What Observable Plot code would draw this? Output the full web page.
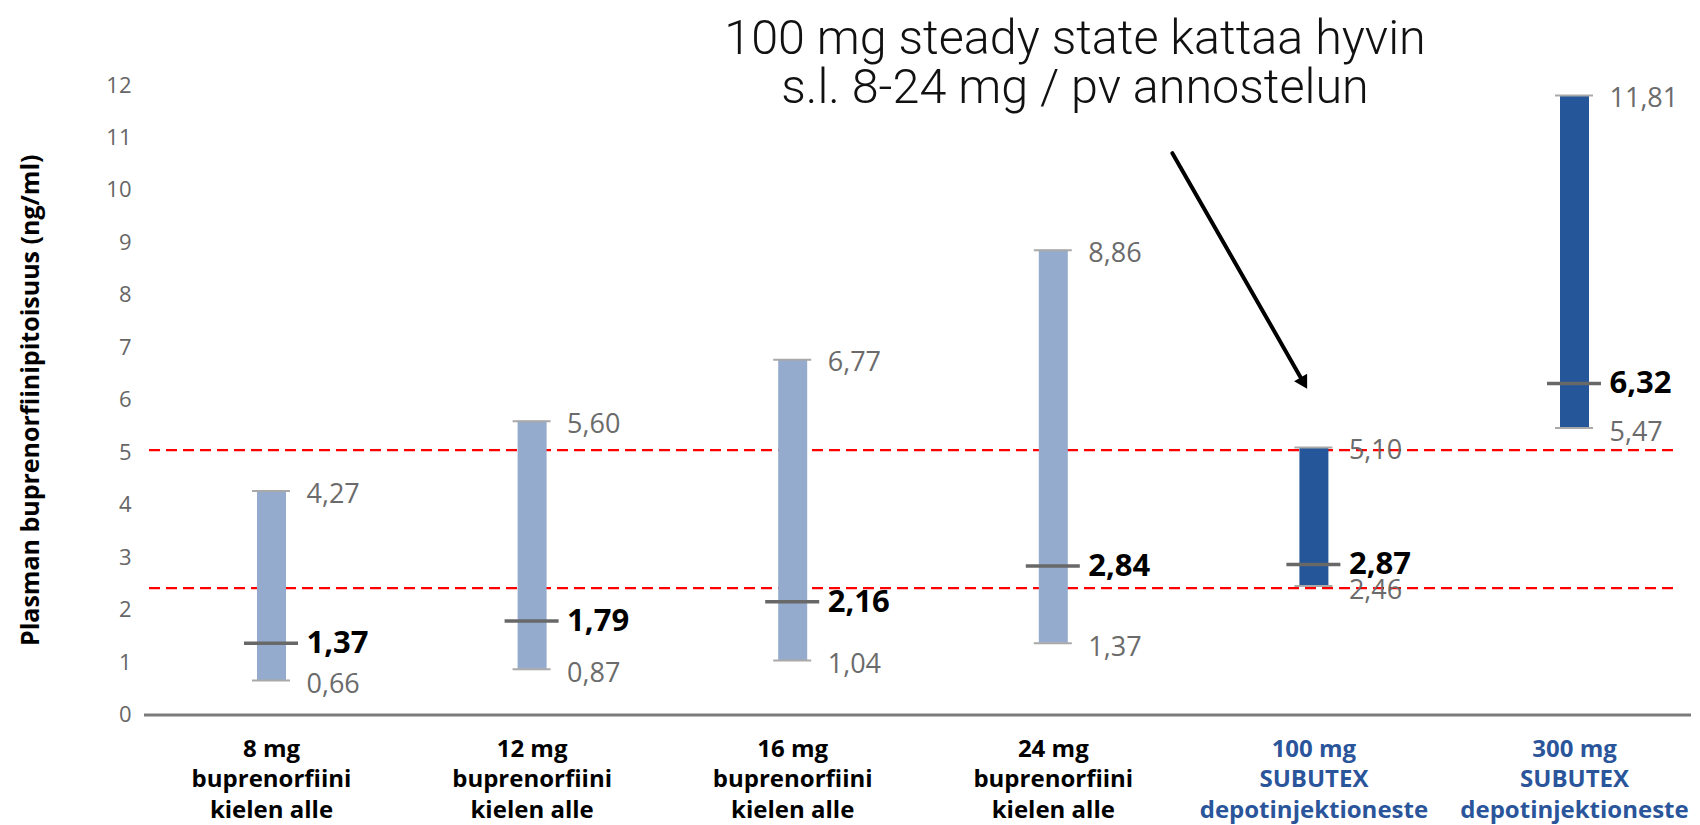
<!DOCTYPE html>
<html>
<head>
<meta charset="utf-8">
<script src="https://cdn.jsdelivr.net/npm/d3@7"></script>
<script src="https://cdn.jsdelivr.net/npm/@observablehq/plot@0.6"></script>
<style>
  html, body { margin: 0; padding: 0; background: #fff; }
  #wrap { position: relative; width: 1700px; height: 825px; }
  #note {
    position: absolute; left: 625px; top: 13px; width: 900px;
    text-align: center; font-family: Roboto, "Liberation Sans", sans-serif;
    font-weight: 300; font-size: 48.5px; line-height: 49px; color: #111;
  }
</style>
</head>
<body>
<div id="wrap">
  <div id="chart"></div>
  <div id="note">100 mg steady state kattaa hyvin<br>s.l. 8-24 mg / pv annostelun</div>
</div>
<script>
// Plasma buprenorphine concentration ranges by dose / formulation
const categories = [
  "8 mg\nbuprenorfiini\nkielen alle",
  "12 mg\nbuprenorfiini\nkielen alle",
  "16 mg\nbuprenorfiini\nkielen alle",
  "24 mg\nbuprenorfiini\nkielen alle",
  "100 mg\nSUBUTEX\ndepotinjektioneste",
  "300 mg\nSUBUTEX\ndepotinjektioneste"
];
const formulation = ["sublingual", "sublingual", "sublingual", "sublingual", "depot", "depot"];
const minValues = [0.66, 0.87, 1.04, 1.37, 2.46, 5.47];
const maxValues = [4.27, 5.60, 6.77, 8.86, 5.10, 11.81];
const medianValues = [1.37, 1.79, 2.16, 2.84, 2.87, 6.32];
const yTicks = [0, 1, 2, 3, 4, 5, 6, 7, 8, 9, 10, 11, 12];
// dashed reference levels spanning the 100 mg depot range
const referenceLevels = [5.05, 2.42];
// annotation arrow, in category-index / ng/ml units
const arrowFrom = {x: 3.457, y: 10.71};
const arrowTo = {x: 3.974, y: 6.22};

const data = categories.map((label, i) => ({
  i, label, type: formulation[i],
  min: minValues[i], max: maxValues[i], median: medianValues[i]
}));

const barColor = {sublingual: "#94abcd", depot: "#255699"};
const labelColor = {sublingual: "#000000", depot: "#2a559b"};
const fmt = v => v.toFixed(2).replace(".", ",");

const width = 1700, height = 825;
const marginLeft = 144, marginRight = 9, marginTop = 85, marginBottom = 110.5;
const frameMid = (width - marginLeft - marginRight) / 2;
const valueFont = "'Open Sans', 'Noto Sans', sans-serif";

// arrowhead: filled triangle whose tip sits on the arrow end point
const headSize = 8.7;               // tip-to-centroid distance, px
const headAngle = 150;              // screen rotation of the triangle, degrees
const headRad = headAngle * Math.PI / 180;

const chart = Plot.plot({
  width, height, marginLeft, marginRight, marginTop, marginBottom,
  style: {background: "#fff", fontFamily: valueFont},
  x: {type: "linear", domain: [0, 5], insetLeft: 127, insetRight: 117, axis: null},
  y: {domain: [0, 12], axis: null},
  marks: [
    // axes lines
    Plot.ruleY([0], {stroke: "#7b7b7b", strokeWidth: 3}),
    Plot.ruleX([0], {y1: 0, y2: 12, dx: -frameMid, stroke: "#6e6e6e", strokeWidth: 2.5}),
    // y tick labels
    Plot.text(yTicks, {y: d => d, text: d => String(d), frameAnchor: "left", textAnchor: "end",
      dx: -13, fill: "#666", fontSize: 22}),
    // y axis title
    Plot.text(["Plasman buprenorfiinipitoisuus (ng/ml)"], {frameAnchor: "left", textAnchor: "middle",
      rotate: -90, dx: -114, fontSize: 25, fontWeight: 700, fill: "#000"}),
    // reference levels
    Plot.ruleY(referenceLevels, {stroke: "#ff0000", strokeWidth: 2.3, strokeDasharray: "11,6",
      insetLeft: 5, insetRight: 13}),
    // range bars
    Plot.ruleX(data, {x: "i", y1: "min", y2: "max", stroke: d => barColor[d.type], strokeWidth: 29}),
    // end caps
    Plot.ruleY(data, {x1: "i", x2: "i", y: "max", insetLeft: -19, insetRight: -19, stroke: "#a9a9a9", strokeWidth: 2}),
    Plot.ruleY(data, {x1: "i", x2: "i", y: "min", insetLeft: -19, insetRight: -19, stroke: "#a9a9a9", strokeWidth: 2}),
    // medians
    Plot.ruleY(data, {x1: "i", x2: "i", y: "median", insetLeft: -27, insetRight: -27, stroke: "#686868", strokeWidth: 3.5}),
    // value labels
    Plot.text(data, {x: "i", y: "max", text: d => fmt(d.max), textAnchor: "start", dx: 35, dy: 3,
      fill: "#6b6b6b", fontSize: 27}),
    Plot.text(data, {x: "i", y: "min", text: d => fmt(d.min), textAnchor: "start", dx: 35, dy: 4,
      fill: "#6b6b6b", fontSize: 27}),
    Plot.text(data, {x: "i", y: "median", text: d => fmt(d.median), textAnchor: "start", dx: 35,
      fill: "#000", fontSize: 31, fontWeight: 700}),
    // category labels
    Plot.text(data, {x: "i", text: "label", frameAnchor: "bottom", lineAnchor: "top", dy: 20,
      lineHeight: 1.27, fontSize: 24, fontWeight: 700, fill: d => labelColor[d.type]}),
    // annotation arrow: shaft plus filled head
    Plot.arrow([{x1: arrowFrom.x, y1: arrowFrom.y, x2: arrowTo.x, y2: arrowTo.y}],
      {x1: "x1", y1: "y1", x2: "x2", y2: "y2", stroke: "#000", strokeWidth: 4, headLength: 0, insetEnd: 9}),
    Plot.dot([arrowTo], {x: "x", y: "y", symbol: "triangle", r: 5.6, fill: "#000", stroke: "none",
      rotate: headAngle, dx: -headSize * Math.sin(headRad), dy: headSize * Math.cos(headRad)})
  ]
});
document.getElementById("chart").appendChild(chart);
</script>
</body>
</html>
